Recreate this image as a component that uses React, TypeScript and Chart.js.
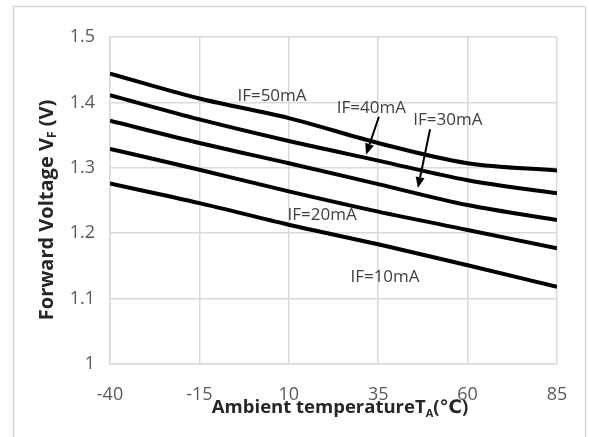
import { useEffect, useRef } from 'react';
import { Chart, registerables } from 'chart.js';

Chart.register(...registerables);

// ---- data ----
const temperatures = [-40, -15, 10, 35, 60, 85];
const vfIF50 = [1.444, 1.406, 1.376, 1.338, 1.307, 1.296];
const vfIF40 = [1.411, 1.374, 1.341, 1.311, 1.281, 1.261];
const vfIF30 = [1.372, 1.338, 1.307, 1.275, 1.243, 1.220];
const vfIF20 = [1.329, 1.297, 1.264, 1.233, 1.205, 1.177];
const vfIF10 = [1.276, 1.246, 1.213, 1.183, 1.151, 1.118];
const seriesNames = ['IF=50mA', 'IF=40mA', 'IF=30mA', 'IF=20mA', 'IF=10mA'];
const seriesValues = [vfIF50, vfIF40, vfIF30, vfIF20, vfIF10];
const xTickValues = [-40, -15, 10, 35, 60, 85];
const yTickValues = [1, 1.1, 1.2, 1.3, 1.4, 1.5];
const yTickLabels = ['1', '1.1', '1.2', '1.3', '1.4', '1.5'];

// label anchors (data units)
const labelTexts = ['IF=50mA', 'IF=40mA', 'IF=30mA', 'IF=20mA', 'IF=10mA'];
const labelX = [5.3, 33.1, 54.5, 19.3, 36.9];
const labelY = [1.410, 1.391, 1.373, 1.228, 1.133];
// arrows (data units): [x0, y0, x1, y1]
const arrows = [
  [35.2, 1.378, 31.6, 1.320],
  [49.5, 1.359, 46.1, 1.269],
];

const FONT = "'Open Sans', 'DejaVu Sans', sans-serif";

function drawRich(ctx: CanvasRenderingContext2D, parts: [string, boolean][], size: number, cx: number, cy: number) {
  const subSize = Math.round(size * 0.62);
  let total = 0;
  const widths: number[] = [];
  for (const [t, sub] of parts) {
    ctx.font = `bold ${sub ? subSize : size}px ${FONT}`;
    const w = ctx.measureText(t).width;
    widths.push(w);
    total += w;
  }
  let xpos = cx - total / 2;
  ctx.textBaseline = 'middle';
  ctx.textAlign = 'left';
  parts.forEach(([t, sub], i) => {
    ctx.font = `bold ${sub ? subSize : size}px ${FONT}`;
    ctx.fillText(t, xpos, sub ? cy + size * 0.3 : cy);
    xpos += widths[i];
  });
}

const overlay = {
  id: 'overlay',
  beforeDraw(chart: any) {
    const ctx = chart.ctx as CanvasRenderingContext2D;
    ctx.save();
    ctx.fillStyle = '#ffffff';
    ctx.fillRect(0, 0, chart.width, chart.height);
    ctx.strokeStyle = '#d9d9d9';
    ctx.lineWidth = 1.5;
    ctx.strokeRect(13.5, 6.5, 572, 450);
    ctx.restore();
  },
  afterDatasetsDraw(chart: any) {
    const ctx = chart.ctx as CanvasRenderingContext2D;
    const xs = chart.scales.x;
    const ys = chart.scales.y;
    ctx.save();
    // series labels
    ctx.fillStyle = '#404040';
    ctx.font = `17px ${FONT}`;
    ctx.textAlign = 'center';
    ctx.textBaseline = 'middle';
    labelTexts.forEach((t, i) => {
      ctx.fillText(t, xs.getPixelForValue(labelX[i]), ys.getPixelForValue(labelY[i]));
    });
    // arrows
    ctx.strokeStyle = '#000';
    ctx.fillStyle = '#000';
    ctx.lineWidth = 2;
    arrows.forEach(([a, b, c, d]) => {
      const x0 = xs.getPixelForValue(a), y0 = ys.getPixelForValue(b);
      const x1 = xs.getPixelForValue(c), y1 = ys.getPixelForValue(d);
      const ang = Math.atan2(y1 - y0, x1 - x0);
      const len = 11, half = 4.5;
      const bx = x1 - len * Math.cos(ang), by = y1 - len * Math.sin(ang);
      ctx.beginPath();
      ctx.moveTo(x0, y0);
      ctx.lineTo(bx, by);
      ctx.stroke();
      ctx.beginPath();
      ctx.moveTo(x1, y1);
      ctx.lineTo(bx + half * Math.sin(ang), by - half * Math.cos(ang));
      ctx.lineTo(bx - half * Math.sin(ang), by + half * Math.cos(ang));
      ctx.closePath();
      ctx.fill();
    });
    // axis titles
    ctx.fillStyle = '#262626';
    drawRich(ctx, [['Ambient temperatureT', false], ['A', true], ['(℃)', false]], 18.5, 340, 408);
    ctx.translate(47, 210);
    ctx.rotate(-Math.PI / 2);
    drawRich(ctx, [['Forward Voltage V', false], ['F', true], [' (V)', false]], 20, 0, 0);
    ctx.restore();
  },
};

export default function App() {
  const ref = useRef<HTMLCanvasElement>(null);
  useEffect(() => {
    if (!ref.current) return;
    const chart = new Chart(ref.current, {
      type: 'line',
      data: {
        datasets: seriesValues.map((vals, i) => ({
          label: seriesNames[i],
          data: temperatures.map((t, j) => ({ x: t, y: vals[j] })),
          borderColor: '#000000',
          borderWidth: 4,
          pointRadius: 0,
          fill: false,
          cubicInterpolationMode: 'monotone' as const,
        })),
      },
      options: {
        animation: false,
        responsive: false,
        devicePixelRatio: 1,
        layout: { padding: { left: 0, right: 32, top: 37, bottom: 0 } },
        plugins: { legend: { display: false }, tooltip: { enabled: false } },
        scales: {
          x: {
            type: 'linear',
            min: -40,
            max: 85,
            afterBuildTicks: (s: any) => { s.ticks = xTickValues.map((v) => ({ value: v })); },
            afterFit: (s: any) => { s.height = 73; },
            ticks: { color: '#595959', font: { family: FONT, size: 18 }, padding: 20, maxRotation: 0 },
            grid: { color: '#d9d9d9', lineWidth: 1.5, drawTicks: false },
            border: { color: '#d9d9d9', width: 1.5 },
          },
          y: {
            type: 'linear',
            min: 1,
            max: 1.5,
            afterBuildTicks: (s: any) => { s.ticks = yTickValues.map((v) => ({ value: v })); },
            afterFit: (s: any) => { s.width = 110; },
            ticks: {
              color: '#595959',
              font: { family: FONT, size: 18 },
              padding: 15,
              callback: (_v: any, i: number) => yTickLabels[i],
            },
            grid: { color: '#d9d9d9', lineWidth: 1.5, drawTicks: false },
            border: { color: '#d9d9d9', width: 1.5 },
          },
        },
      },
      plugins: [overlay],
    });
    return () => chart.destroy();
  }, []);
  return (
    <div style={{ position: 'fixed', left: 0, top: 0, width: 589, height: 437 }}>
      <canvas ref={ref} width={589} height={437} />
    </div>
  );
}
